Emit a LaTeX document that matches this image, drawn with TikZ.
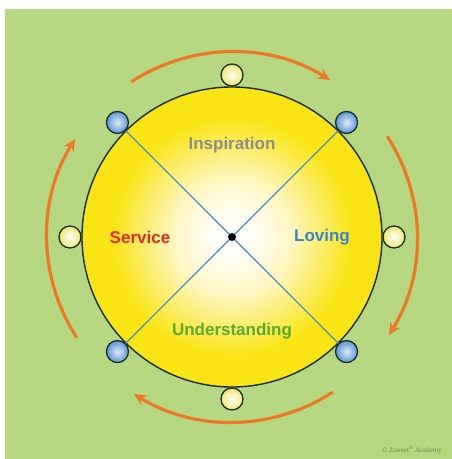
\documentclass[tikz,border=0pt]{standalone}
\usepackage{fontspec}
\setsansfont{Liberation Sans}
\newfontfamily\notefont{Liberation Serif}
\usetikzlibrary{arrows.meta,positioning}

\definecolor{meadow}{RGB}{183,216,130}
\definecolor{sunyellow}{RGB}{250,228,20}
\definecolor{paleyellow}{RGB}{255,246,190}
\definecolor{dotyellow}{RGB}{240,232,110}
\definecolor{dotblue}{RGB}{90,150,215}
\definecolor{lineblue}{RGB}{75,140,195}
\definecolor{rim}{RGB}{25,45,35}
\definecolor{cycleorange}{RGB}{240,118,40}
\definecolor{servred}{RGB}{225,45,30}
\definecolor{lovblue}{RGB}{55,135,200}
\definecolor{undgreen}{RGB}{90,170,50}
\definecolor{insgray}{RGB}{140,140,140}

\pgfdeclareradialshading{sunglow}{\pgfpoint{0bp}{0bp}}{%
  color(0bp)=(white);
  color(4bp)=(white!80!paleyellow);
  color(10bp)=(paleyellow);
  color(20bp)=(sunyellow);
  color(25bp)=(sunyellow);
  color(50bp)=(sunyellow)}

\begin{document}
\begin{tikzpicture}[
    x=1pt,y=1pt,
    thick,
    big circle/.style={circle,draw=rim,line width=1.4pt,shading=sunglow,minimum size=300pt,inner sep=0pt},
    yellow dot/.style={circle,draw=rim,line width=1.3pt,inner color=white,outer color=dotyellow,minimum size=22pt,inner sep=0pt},
    blue dot/.style={circle,draw=rim,line width=1.3pt,inner color=white!80!dotblue,outer color=dotblue,minimum size=22pt,inner sep=0pt},
    cross line/.style={draw=lineblue,line width=1.3pt},
    cycle arrow/.style={draw=cycleorange,line width=3.2pt,-{Stealth[length=12pt,width=11pt]}},
    label text/.style={font=\sffamily\bfseries\fontsize{17}{20}\selectfont}
]

% Background
\useasboundingbox (-232,-222) rectangle (220,237);
\fill[meadow] (-227,-222) rectangle (220,228);

% Main circle
\node[big circle] (sun) at (0,0) {};

% Dots round the circle
\node[yellow dot] (top) at (90:162) {};
\node[yellow dot] (right) at (0:162) {};
\node[yellow dot] (bottom) at (270:162) {};
\node[yellow dot] (left) at (180:162) {};
\node[blue dot] (ne) at (45:162) {};
\node[blue dot] (nw) at (135:162) {};
\node[blue dot] (se) at (-45:162) {};
\node[blue dot] (sw) at (225:162) {};

% Cross
\path[cross line] (nw) -- (se);
\path[cross line] (ne) -- (sw);
\node[circle,fill=black,inner sep=0pt,minimum size=8pt] (hub) at (0,0) {};

% Labels
\node[label text,text=insgray] (insp) at (0,92) {Inspiration};
\node[label text,text=servred] (serv) at (-92,0) {Service};
\node[label text,text=lovblue] (lov) at (90,0) {Loving};
\node[label text,text=undgreen] (und) at (0,-94) {Understanding};

% Cycle arrows
\coordinate (a1) at (123:185);
\coordinate (a2) at (33:185);
\coordinate (a3) at (-57:185);
\coordinate (a4) at (213:185);
\draw[cycle arrow] (a1) arc[start angle=123,end angle=58,radius=185];
\draw[cycle arrow] (a2) arc[start angle=33,end angle=-32,radius=185];
\draw[cycle arrow] (a3) arc[start angle=-57,end angle=-122,radius=185];
\draw[cycle arrow] (a4) arc[start angle=213,end angle=148,radius=185];

% Credit
\node[font=\notefont\fontsize{7}{8}\selectfont,text=black!40!meadow] (credit) at (180,-213) {\textcopyright\ Zonnet\textsuperscript{\textregistered} Academy};

\end{tikzpicture}
\end{document}
